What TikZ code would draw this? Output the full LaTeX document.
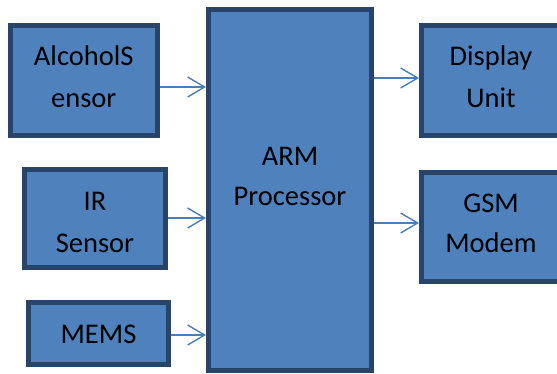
\documentclass[tikz,border=0pt]{standalone}
\usepackage{fontspec}
\setmainfont{Carlito}
\usetikzlibrary{arrows.meta}
\definecolor{boxfill}{HTML}{4F81BD}
\definecolor{boxline}{RGB}{41,68,105}
\definecolor{arrowcol}{HTML}{4A7EBB}
\begin{document}
\begin{tikzpicture}[x=1pt,y=-1pt,
  blk/.style={draw=boxline, fill=boxfill, line width=5pt, inner sep=0pt},
  txt/.style={inner sep=0pt, anchor=base, font=\fontsize{28.5}{41}\selectfont},
  arr/.style={draw=arrowcol, line width=1.4pt,
    -{Straight Barb[length=17pt,width=20pt,line width=1.4pt]}}]
\useasboundingbox (0,0) rectangle (557,373);
\clip (0,0) rectangle (557,373);
% boxes
\node[blk, minimum width=147.5pt, minimum height=110pt] (alc) at (83.75,80.5) {};
\node[blk, minimum width=141pt, minimum height=98pt] (ir) at (95,218.5) {};
\node[blk, minimum width=140pt, minimum height=62pt] (mems) at (98.5,333.5) {};
\node[blk, minimum width=163pt, minimum height=361pt] (arm) at (290,190) {};
\node[blk, minimum width=139pt, minimum height=110pt] (disp) at (491,80.5) {};
\node[blk, minimum width=139pt, minimum height=109pt] (gsm) at (491,227) {};
% texts
\node[txt] (alcA) at (alc.center |- 0,65) {AlcoholS};
\node[txt] (alcB) at (alc.center |- 0,107) {ensor};
\node[txt] (irA) at (ir.center |- 0,210) {IR};
\node[txt] (irB) at (ir.center |- 0,252) {Sensor};
\node[txt] (memsA) at (mems.center |- 0,343) {MEMS};
\node[txt] (armA) at (arm.center |- 0,165) {ARM};
\node[txt] (armB) at (arm.center |- 0,205) {Processor};
\node[txt] (dispA) at (disp.center |- 0,65) {Display};
\node[txt] (dispB) at (disp.center |- 0,107) {Unit};
\node[txt] (gsmA) at (gsm.center |- 0,212) {GSM};
\node[txt] (gsmB) at (gsm.center |- 0,252) {Modem};
% connectors
\draw[arr] (alc.east |- 0,87) -- (arm.west |- 0,87);
\draw[arr] (ir.east |- 0,218) -- (arm.west |- 0,218);
\draw[arr] (mems.east |- 0,335) -- (arm.west |- 0,335);
\draw[arr] (arm.east |- 0,78) -- (disp.west |- 0,78);
\draw[arr] (arm.east |- 0,223) -- (gsm.west |- 0,223);
\end{tikzpicture}
\end{document}
